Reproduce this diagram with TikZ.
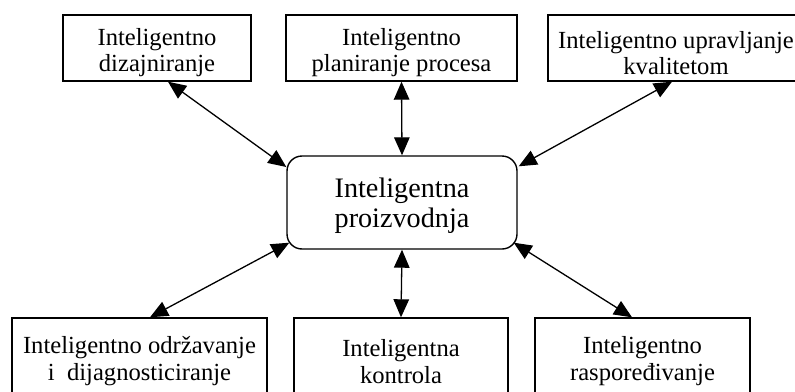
\documentclass[tikz,border=0pt]{standalone}
\usepackage{fontspec}
\setmainfont{Liberation Serif}
\usetikzlibrary{arrows.meta}
\newcommand\myup[1]{\rule{0pt}{#1}}
\begin{document}
\begin{tikzpicture}[x=1pt,y=-1pt,
  box/.style={draw, line width=1.4pt, align=center, inner sep=0pt,
    font=\fontsize{24.6}{26}\selectfont},
  hub/.style={draw, line width=1.4pt, align=center, inner sep=0pt, rounded corners=15pt,
    minimum width=230pt, minimum height=93pt, font=\fontsize{28.2}{29.5}\selectfont},
  arr/.style={{Triangle[length=18pt,width=15.5pt]}-{Triangle[length=18pt,width=15.5pt]}, line width=1.3pt}]
\useasboundingbox (0,0) rectangle (795,391);
\clip (0,0) rectangle (795,391);
\node[box, minimum width=188pt, minimum height=66pt] (b1) at (157,48) {\myup{27pt}Inteligentno\\dizajniranje};
\node[box, minimum width=231pt, minimum height=66pt] (b2) at (401.5,48) {\myup{27pt}Inteligentno\\planiranje procesa};
\node[box, minimum width=256pt, minimum height=66pt] (b3) at (676,48) {\myup{27pt}Inteligentno upravljanje\\kvalitetom};
\node[hub] (c) at (402,202.5) {\myup{26pt}Inteligentna\\proizvodnja};
\node[box, minimum width=255pt, minimum height=80pt] (b4) at (139.5,358) {\myup{24pt}Inteligentno održavanje\\[1pt]i~\ dijagnosticiranje};
\node[box, minimum width=214pt, minimum height=80pt] (b5) at (401,358) {\myup{24pt}Inteligentna\\[1pt]kontrola};
\node[box, minimum width=215pt, minimum height=80pt] (b6) at (642.5,358) {\myup{24pt}Inteligentno\\[1pt]raspoređivanje};
\draw[arr] (168,0 |- b1.south) -- (c.west |- 0,167);
\draw[arr] (b2.south) -- (c.north);
\draw[arr] (672,0 |- b3.south) -- ([shift={(1,11)}]c.north east);
\draw[arr] ([shift={(3,-7)}]c.south west) -- (150,0 |- b4.north);
\draw[arr] (c.south) -- (b5.north);
\draw[arr] ([shift={(-4,-7)}]c.south east) -- (632,0 |- b6.north);
\end{tikzpicture}
\end{document}
